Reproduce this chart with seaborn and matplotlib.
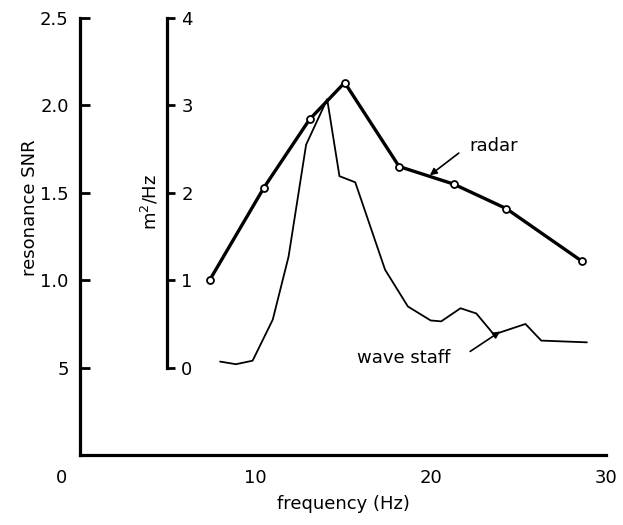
import matplotlib
matplotlib.use("Agg")
import matplotlib.pyplot as plt
import matplotlib.transforms as mtransforms
import seaborn as sns
import numpy as np

# ---- data ----
radar_freq = [7.4, 10.5, 13.1, 15.1, 18.2, 21.3, 24.3, 28.6]
radar_snr = [1.00, 1.53, 1.92, 2.13, 1.65, 1.55, 1.41, 1.11]

staff_freq = [8.0, 8.9, 9.85, 11.0, 11.9, 12.9, 14.1, 14.8, 15.7, 17.4, 18.7,
              20.0, 20.6, 21.7, 22.6, 23.6, 25.4, 26.3, 28.9]
staff_psd = [0.07, 0.04, 0.08, 0.55, 1.27, 2.55, 3.07, 2.19, 2.12, 1.12, 0.70,
             0.54, 0.53, 0.68, 0.62, 0.38, 0.50, 0.31, 0.29]

snr_ticks = [0.5, 1.0, 1.5, 2.0, 2.5]
snr_labels = ["5", "1.0", "1.5", "2.0", "2.5"]
psd_ticks = [0, 1, 2, 3, 4]
psd_labels = ["0", "1", "2", "3", "4"]
freq_ticks = [0, 5, 10, 15, 20, 25, 30]
freq_labels = ["0", "", "10", "", "20", "", "30"]

sns.set_style("white")
plt.rcParams["font.family"] = ["DejaVu Sans"]
for k in ["text.color", "axes.labelcolor", "xtick.color", "ytick.color",
          "axes.edgecolor"]:
    plt.rcParams[k] = "black"

fig = plt.figure(figsize=(6.23, 5.25), dpi=100)
ax = fig.add_axes([0.128, 0.133, 0.845, 0.833])
ax2 = ax.twinx()

# radar (resonance SNR)
sns.lineplot(x=radar_freq, y=radar_snr, ax=ax, color="black", lw=2.4,
             marker="o", markersize=5, markerfacecolor="white",
             markeredgecolor="black", markeredgewidth=1.3)
# wave staff (m^2/Hz)
sns.lineplot(x=staff_freq, y=staff_psd, ax=ax2, color="black", lw=1.3)

ax.set_xlim(0, 30)
ax.set_ylim(0, 2.5)
ax2.set_ylim(-1, 4)

for s in ["top", "right"]:
    ax.spines[s].set_visible(False)
for s in ["top", "left", "bottom"]:
    ax2.spines[s].set_visible(False)
ax.spines["left"].set_linewidth(2.3)
ax.spines["bottom"].set_linewidth(2.3)
ax2.spines["right"].set_position(("data", 5))
ax2.spines["right"].set_bounds(0, 4)
ax2.spines["right"].set_linewidth(2.3)

ax.set_yticks(snr_ticks)
ax.set_yticklabels(snr_labels)
ax.set_xticks(freq_ticks)
ax.set_xticklabels(freq_labels)
ax.tick_params(axis="y", direction="in", length=7, width=2, labelsize=13, pad=8)
ax.tick_params(axis="x", direction="in", length=6, width=1.5, labelsize=13, pad=10)

# first x label sits left of the origin in the reference
lbl0 = ax.get_xticklabels()[0]
lbl0.set_transform(lbl0.get_transform() +
                   mtransforms.ScaledTranslation(-0.18, 0, fig.dpi_scale_trans))

ax2.set_yticks(psd_ticks)
ax2.set_yticklabels(psd_labels)
ax2.tick_params(axis="y", direction="out", length=6, width=2, labelsize=13, pad=4)

ax.set_xlabel("frequency (Hz)", fontsize=13, labelpad=6)
ax.set_ylabel("resonance SNR", fontsize=13)
ax.yaxis.set_label_coords(-0.078, 0.566)
ax2.text(4.0, 1.9, r"m$^2$/Hz", rotation=90, ha="center", va="center",
         fontsize=13, transform=ax2.transData)

# annotations
arrow = dict(arrowstyle="-|>", color="black", lw=1.2, mutation_scale=10,
             shrinkA=0, shrinkB=0)
ax.text(23.6, 1.765, "radar", fontsize=13, ha="center", va="center")
ax.annotate("", xy=(19.95, 1.60), xytext=(21.6, 1.727), arrowprops=arrow)
ax.text(18.44, 0.555, "wave staff", fontsize=13, ha="center", va="center")
ax.annotate("", xy=(23.96, 0.707), xytext=(22.25, 0.593), arrowprops=arrow)

fig.savefig("out.png", dpi=100)
